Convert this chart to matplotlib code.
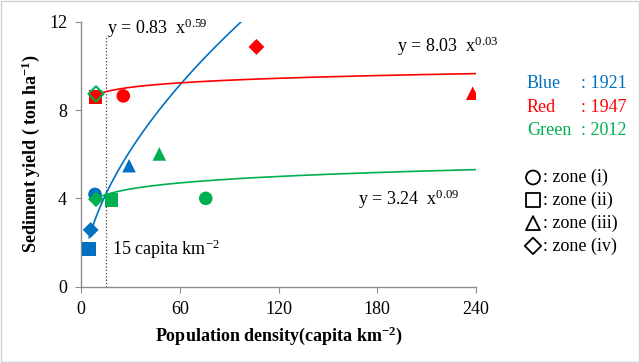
import numpy as np
import matplotlib
matplotlib.use("Agg")
import matplotlib.pyplot as plt
from matplotlib.patches import Rectangle

plt.rcParams['font.family'] = ['Liberation Serif', 'DejaVu Serif']
plt.rcParams['mathtext.fontset'] = 'custom'
plt.rcParams['mathtext.rm'] = 'Liberation Serif'
plt.rcParams['mathtext.bf'] = 'Liberation Serif:bold'
plt.rcParams['mathtext.it'] = 'Liberation Serif:italic'

# zone order: (i) circle, (ii) square, (iii) triangle, (iv) diamond
zone_markers = ['o', 's', '^', 'D']
zone_names = [': zone (i)', ': zone (ii)', ': zone (iii)', ': zone (iv)']

blue_x = [8.5, 4.9, 29.2, 5.9]      # 1921
blue_y = [4.18, 1.71, 5.48, 2.57]
red_x = [25.7, 8.7, 238, 106.6]     # 1947
red_y = [8.64, 8.60, 8.76, 10.86]
green_x = [75.8, 18.6, 47.6, 9.1]   # 2012
green_y = [4.00, 3.93, 6.01, 3.96]
extra_x = [9.1]                      # open green diamond
extra_y = [8.73]

threshold = 15

col_blue = '#0070C0'
col_red = '#FF0000'
col_green = '#00B050'

fig = plt.figure(figsize=(6.4, 3.63), dpi=100)
ax = fig.add_axes([81 / 640, 1 - 286.7 / 363, 395 / 640, 265 / 363])

def fx(px):
    return px / 640

def fy(py):
    return 1 - py / 363

series = [(blue_x, blue_y, col_blue), (red_x, red_y, col_red), (green_x, green_y, col_green)]
for xs, ys, c in series:
    # power trendline fitted in log-log space
    b, a = np.polyfit(np.log(xs), np.log(ys), 1)
    xx = np.linspace(min(xs), 240, 400)
    ax.plot(xx, np.exp(a) * xx ** b, color=c, lw=1.2, zorder=2)

for xs, ys, c in series:
    for x, y, m in zip(xs, ys, zone_markers):
        s = 95 if m != 'D' else 65
        ax.scatter([x], [y], marker=m, s=s, color=c, edgecolors='none', zorder=3)

ax.scatter(extra_x, extra_y, marker='D', s=60, facecolors='none',
           edgecolors=col_green, linewidths=1.5, zorder=4)

ax.plot([threshold, threshold], [0, 11.32], color='#404040', lw=0.9, ls=':', zorder=1)

ax.set_xlim(0, 240)
ax.set_ylim(0, 12)
ax.set_xticks([0, 60, 120, 180, 240])
ax.set_yticks([0, 4, 8, 12])
for side in ['top', 'right']:
    ax.spines[side].set_visible(False)
for side in ['left', 'bottom']:
    ax.spines[side].set_color('#8c8c8c')
    ax.spines[side].set_linewidth(1.0)
ax.tick_params(axis='both', direction='out', length=4, color='#8c8c8c',
               labelsize=13, labelcolor='black', pad=6)

ax.set_xlabel(r'Population density(capita km$^{\mathbf{-2}}$)', fontsize=13,
              fontweight='bold', labelpad=5)
ax.set_ylabel(r'Sediment yield ( ton ha$^{\mathbf{-1}}$)', fontsize=13,
              fontweight='bold', labelpad=5)

fig.text(fx(107), fy(28), r'y = 0.83  x$^{\mathrm{0.59}}$', fontsize=13, va='center')
fig.text(fx(397), fy(46), r'y = 8.03  x$^{\mathrm{0.03}}$', fontsize=13, va='center')
fig.text(fx(358), fy(199), r'y = 3.24  x$^{\mathrm{0.09}}$', fontsize=13, va='center')
fig.text(fx(112), fy(249), r'15 capita km$^{\mathrm{-2}}$', fontsize=13, va='center')

year_labels = [('Blue', ': 1921', col_blue), ('Red', ': 1947', col_red), ('Green', ': 2012', col_green)]
for i, (name, yr, c) in enumerate(year_labels):
    yy = 84 + i * 23.3
    fig.text(fx(527), fy(yy), name, color=c, fontsize=13, va='center')
    fig.text(fx(581), fy(yy), yr, color=c, fontsize=13, va='center')

for i, (m, name) in enumerate(zip(zone_markers, zone_names)):
    yy = 177.5 + i * 22.8
    ax.scatter([fx(533)], [fy(yy)], marker=m, s=100 if m != 'D' else 70,
               facecolors='none', edgecolors='black', linewidths=1.3,
               transform=fig.transFigure, clip_on=False)
    fig.text(fx(543), fy(yy), name, fontsize=13, va='center')

fig.add_artist(Rectangle((0.001, 0.002), 0.997, 0.995, transform=fig.transFigure,
                         fill=False, edgecolor='#d0d0d0', lw=1))

fig.savefig('out.png', dpi=100)
